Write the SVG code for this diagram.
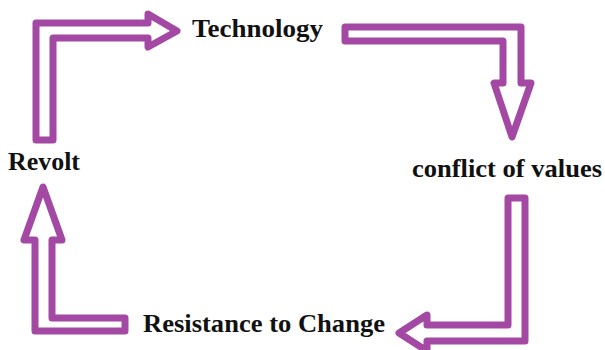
<svg xmlns="http://www.w3.org/2000/svg" width="605" height="350" viewBox="0 0 605 350">
<style>
.arr{fill:#ffffff;stroke:#a349a4;stroke-width:7;stroke-linejoin:round;}
.lbl{font-family:"Liberation Serif","Times New Roman",serif;font-weight:bold;font-size:26px;fill:#111111;}
</style>
<rect width="605" height="350" fill="#ffffff"/>
<g id="connectors">
<path class="arr" d="M36,140 L36,23 L148,23 L148,14 L177,31 L148,47 L148,38 L53,38 L53,140 Z"/>
<path class="arr" d="M345,27 L521,27 L521,83 L531,83 L512,137 L494,83 L503,83 L503,41 L345,41 Z"/>
<path class="arr" d="M508,198 L508,325 L427,325 L427,315 L399,333 L427,351 L427,341 L525,341 L525,198 Z"/>
<path class="arr" d="M125,318 L52,318 L52,240 L62,240 L43,187 L24,240 L35,240 L35,331 L125,331 Z"/>
</g>
<g id="technology"><text class="lbl" x="192" y="37" textLength="131" lengthAdjust="spacingAndGlyphs">Technology</text></g>
<g id="conflict"><text class="lbl" x="412" y="177" textLength="190" lengthAdjust="spacingAndGlyphs">conflict of values</text></g>
<g id="resistance"><text class="lbl" x="143" y="332" textLength="242" lengthAdjust="spacingAndGlyphs">Resistance to Change</text></g>
<g id="revolt"><text class="lbl" x="8" y="170" textLength="72" lengthAdjust="spacingAndGlyphs">Revolt</text></g>
</svg>
